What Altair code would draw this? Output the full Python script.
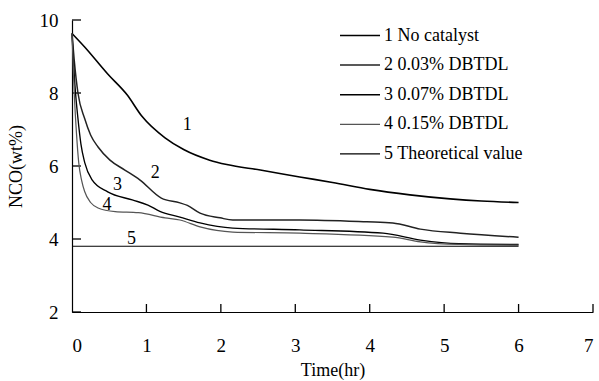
import altair as alt
import pandas as pd

series_names = ["1 No catalyst", "2 0.03% DBTDL", "3 0.07% DBTDL",
                "4 0.15% DBTDL", "5 Theoretical value"]

t1 = [0, 0.17, 0.48, 0.74, 0.94, 1.25, 1.5, 1.85, 2.08, 2.53, 3.06, 3.5, 4.0, 4.54, 5.08, 5.5, 6.0]
v1 = [9.63, 9.26, 8.52, 7.95, 7.36, 6.77, 6.45, 6.16, 6.04, 5.89, 5.70, 5.55, 5.36, 5.21, 5.10, 5.04, 5.00]

t2 = [0, 0.03, 0.08, 0.17, 0.25, 0.35, 0.51, 0.71, 0.91, 1.2, 1.45, 1.55, 1.72, 1.99, 2.16, 3.06, 3.96, 4.31, 4.68, 5.22, 6.0]
v2 = [9.63, 8.9, 8.0, 7.3, 6.85, 6.52, 6.16, 5.89, 5.62, 5.12, 4.99, 4.92, 4.71, 4.58, 4.52, 4.52, 4.47, 4.44, 4.27, 4.16, 4.05]

t3 = [0, 0.04, 0.08, 0.12, 0.17, 0.27, 0.48, 0.81, 1.02, 1.18, 1.45, 1.72, 2.16, 3.06, 4.18, 4.68, 5.2, 6.0]
v3 = [9.63, 8.2, 7.3, 6.6, 6.1, 5.62, 5.29, 5.07, 4.93, 4.76, 4.60, 4.44, 4.30, 4.25, 4.16, 3.97, 3.87, 3.85]

t4 = [0, 0.03, 0.06, 0.09, 0.13, 0.17, 0.25, 0.35, 0.58, 0.89, 1.25, 1.45, 1.72, 2.16, 3.06, 4.31, 4.68, 5.2, 6.0]
v4 = [9.63, 8.0, 6.9, 6.1, 5.6, 5.3, 5.0, 4.85, 4.75, 4.72, 4.58, 4.52, 4.33, 4.19, 4.16, 4.05, 3.92, 3.85, 3.83]

t5 = [0, 6.0]
v5 = [3.8, 3.8]

label_text = ["1", "2", "3", "4", "5"]
label_t = [1.55, 1.12, 0.61, 0.47, 0.8]
label_v = [7.12, 5.80, 5.48, 4.93, 4.0]

x_ticks = [1, 2, 3, 4, 5, 6, 7]
y_ticks = [2, 4, 6, 8, 10]

rows = []
for name, ts, vs in zip(series_names, [t1, t2, t3, t4, t5], [v1, v2, v3, v4, v5]):
    for i, (t, v) in enumerate(zip(ts, vs)):
        rows.append({"series": name, "t": t, "v": v, "order": i})
df = pd.DataFrame(rows)
labels = pd.DataFrame({"text": label_text, "t": label_t, "v": label_v})
xt = pd.DataFrame({"t": x_ticks, "v": [2] * len(x_ticks)})
yt = pd.DataFrame({"t": [0] * len(y_ticks), "v": y_ticks})

FONT = "Liberation Serif"
xs = alt.Scale(domain=[0, 7], nice=False, zero=False)
ys = alt.Scale(domain=[2, 10], nice=False, zero=False)

xax = alt.Axis(values=x_ticks + [0], format="d", ticks=False, grid=False, labelPadding=24,
               titlePadding=6, labelFont=FONT, titleFont=FONT, labelFontSize=19,
               titleFontSize=18)
yax = alt.Axis(values=y_ticks, format="d", ticks=False, grid=False, labelPadding=14,
               titlePadding=14, labelFont=FONT, titleFont=FONT, labelFontSize=19,
               titleFontSize=18)

xtick = alt.Chart(xt).mark_tick(orient="vertical", size=8, yOffset=-4, thickness=1.3,
                                color="black", opacity=1).encode(
    x=alt.X("t:Q", scale=xs, axis=xax, title="Time(hr)"),
    y=alt.Y("v:Q", scale=ys, axis=yax, title="NCO(wt%)"))
ytick = alt.Chart(yt).mark_tick(orient="horizontal", size=9, xOffset=4.5, thickness=1.3,
                                color="black", opacity=1).encode(
    x=alt.X("t:Q", scale=xs), y=alt.Y("v:Q", scale=ys))

lines = alt.Chart(df).mark_line(interpolate="monotone").encode(
    x=alt.X("t:Q", scale=xs),
    y=alt.Y("v:Q", scale=ys),
    order="order:Q",
    color=alt.Color("series:N", sort=series_names,
                    scale=alt.Scale(domain=series_names,
                                    range=["black", "#222222", "black", "#555555", "black"]),
                    legend=alt.Legend(title=None, orient="none", legendX=267, legendY=6,
                                      symbolType="stroke", symbolSize=1600,
                                      symbolStrokeWidth=1.5, clipHeight=19,
                                      labelFont=FONT, labelFontSize=18, labelColor="black",
                                      rowPadding=10.6, labelOffset=3)),
    strokeWidth=alt.StrokeWidth("series:N", sort=series_names,
                                scale=alt.Scale(domain=series_names,
                                                range=[1.6, 1.1, 1.6, 1.1, 1.6]),
                                legend=None),
)

text = alt.Chart(labels).mark_text(font=FONT, fontSize=18, color="black").encode(
    x=alt.X("t:Q", scale=xs), y=alt.Y("v:Q", scale=ys), text="text:N")

chart = alt.layer(xtick, ytick, lines, text).properties(
    width=521, height=292,
    autosize=alt.AutoSizeParams(type="none"),
    padding={"left": 72, "top": 20, "right": 6, "bottom": 69},
    background="white",
).configure_view(stroke=None, clip=False).configure_axis(
    domainWidth=1.2, domainColor="black", labelColor="black", titleColor="black",
    labelFont=FONT, titleFont=FONT,
    titleFontWeight="normal",
).configure_legend(labelFont=FONT)

chart.save("out.html", embed_options={"renderer": "svg", "actions": False})
